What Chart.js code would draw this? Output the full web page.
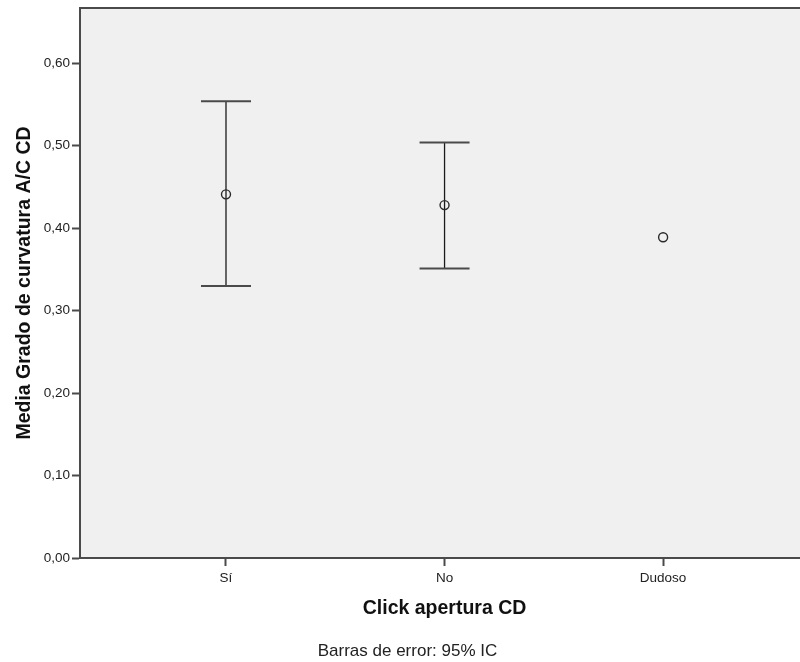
<!DOCTYPE html>
<html>
<head>
<meta charset="utf-8">
<script src="https://cdn.jsdelivr.net/npm/chart.js@4"></script>
<style>
  html, body { margin: 0; padding: 0; background: #fff; overflow: hidden; }
  #frame { width: 800px; height: 662px; overflow: hidden; }
  #wrap { width: 815px; height: 662px; }
  canvas { display: block; }
</style>
</head>
<body>
<div id="frame"><div id="wrap"><canvas id="myChart"></canvas></div></div>
<script>
const categories = ['Sí', 'No', 'Dudoso'];
const means = [0.441, 0.428, 0.389];
const lower = [0.330, 0.351, null];
const upper = [0.554, 0.504, null];
const yTicks = [0, 0.1, 0.2, 0.3, 0.4, 0.5, 0.6];

const FONT = "'Liberation Sans', Arial, sans-serif";
const AXIS = '#4a4a4a';

// grey plot background + top frame line
const plotBg = {
    id: 'plotBg',
    beforeDraw(chart) {
        const { ctx, chartArea: a } = chart;
        ctx.save();
        ctx.fillStyle = '#f0f0f0';
        ctx.fillRect(a.left, a.top, a.right - a.left, a.bottom - a.top);
        ctx.strokeStyle = AXIS;
        ctx.lineWidth = 2;
        ctx.beginPath();
        ctx.moveTo(a.left, a.top);
        ctx.lineTo(a.right, a.top);
        ctx.stroke();
        ctx.restore();
    }
};

// 95% CI error bars
const errorBars = {
    id: 'errorBars',
    beforeDatasetsDraw(chart) {
        const { ctx, scales: { x, y } } = chart;
        ctx.save();
        for (let i = 0; i < categories.length; i++) {
            if (lower[i] == null || upper[i] == null) continue;
            const px = x.getPixelForValue(i + 1);
            const yl = y.getPixelForValue(lower[i]);
            const yu = y.getPixelForValue(upper[i]);
            ctx.strokeStyle = '#1a1a1a';
            ctx.lineWidth = 1.3;
            ctx.beginPath();
            ctx.moveTo(px, yl); ctx.lineTo(px, yu);
            ctx.stroke();
            ctx.strokeStyle = '#4a4a4a';
            ctx.lineWidth = 2;
            ctx.beginPath();
            ctx.moveTo(px - 25, yl); ctx.lineTo(px + 25, yl);
            ctx.moveTo(px - 25, yu); ctx.lineTo(px + 25, yu);
            ctx.stroke();
        }
        ctx.restore();
    }
};

const data = {
    datasets: [{
        label: 'Media',
        data: means.map((m, i) => ({ x: i + 1, y: m })),
        pointRadius: 4.5,
        pointHoverRadius: 4.5,
        pointBorderColor: '#2a2a2a',
        pointBackgroundColor: 'rgba(0,0,0,0)',
        pointBorderWidth: 1.4,
        showLine: false
    }]
};

const config = {
    type: 'scatter',
    data: data,
    options: {
        responsive: true,
        maintainAspectRatio: false,
        animation: false,
        layout: { padding: { top: 8, right: 0, left: 0, bottom: 0 } },
        plugins: {
            legend: { display: false },
            tooltip: { enabled: false },
            title: {
                display: true,
                position: 'bottom',
                text: 'Barras de error: 95% IC',
                color: '#222',
                font: { family: FONT, size: 17, weight: 'normal' },
                padding: { top: 8, bottom: 0 }
            }
        },
        scales: {
            x: {
                type: 'linear',
                min: 0.332,
                max: 3.668,
                afterFit: s => { s.height = 75.6; s.paddingRight = 0; s.paddingLeft = 0; },
                afterBuildTicks: s => { s.ticks = categories.map((c, i) => ({ value: i + 1 })); },
                ticks: {
                    callback: v => categories[v - 1],
                    color: '#222',
                    padding: 4,
                    maxRotation: 0,
                    font: { family: FONT, size: 13.5 }
                },
                grid: { drawOnChartArea: false, drawTicks: true, tickLength: 8, tickColor: AXIS, tickWidth: 2 },
                border: { color: AXIS, width: 2 },
                title: {
                    display: true,
                    text: 'Click apertura CD',
                    color: '#111',
                    font: { family: FONT, size: 19.5, weight: 'bold' },
                    padding: { top: 0, bottom: 13.6 }
                }
            },
            y: {
                min: 0,
                max: 0.667,
                afterFit: s => { s.width = 80; s.paddingTop = 0; s.paddingBottom = 0; s.paddingRight = 0; },
                afterBuildTicks: s => { s.ticks = yTicks.map(v => ({ value: v })); },
                ticks: {
                    callback: v => v.toFixed(2).replace('.', ','),
                    color: '#222',
                    padding: 2,
                    font: { family: FONT, size: 13.5 }
                },
                grid: { drawOnChartArea: false, drawTicks: true, tickLength: 8, tickColor: AXIS, tickWidth: 2 },
                border: { color: AXIS, width: 2 },
                title: {
                    display: true,
                    text: 'Media Grado de curvatura A/C CD',
                    color: '#111',
                    font: { family: FONT, size: 19.5, weight: 'bold' },
                    padding: { top: 13, bottom: 0 }
                }
            }
        }
    },
    plugins: [plotBg, errorBars]
};

const myChart = new Chart(document.getElementById('myChart'), config);
</script>
</body>
</html>
